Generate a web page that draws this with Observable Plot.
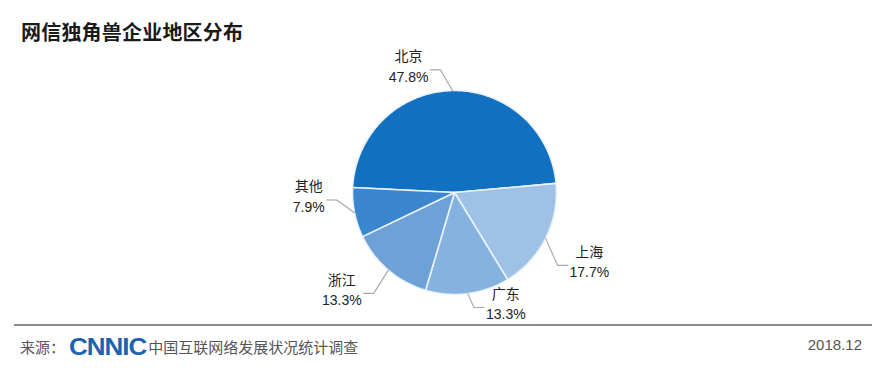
<!DOCTYPE html>
<html>
<head>
<meta charset="utf-8">
<script src="https://cdn.jsdelivr.net/npm/d3@7"></script>
<script src="https://cdn.jsdelivr.net/npm/@observablehq/plot@0.6"></script>
<style>
  html, body { margin: 0; padding: 0; background: #ffffff; }
  #wrap { position: relative; width: 885px; height: 368px; overflow: hidden; background: #fff;
          font-family: "Liberation Sans", "Noto Sans CJK SC", sans-serif; }
  #title { position: absolute; left: 21px; top: 17px; font-family: "Noto Sans CJK SC", sans-serif;
           font-weight: 700; font-size: 20px; color: #1a1a1a; letter-spacing: 0.2px; }
  #chart { position: absolute; left: 0; top: 45px; }
  #rule { position: absolute; left: 14px; top: 324px; width: 858px; height: 2px; background: #8a8a8a; }
  #source { position: absolute; left: 20px; top: 334px; height: 24px; display: flex; align-items: center;
            font-family: "Noto Sans CJK SC", sans-serif; font-size: 15px; color: #555; }
  #logo { font-family: "Liberation Sans", sans-serif; font-weight: 700; font-size: 26px; color: #1d63b0;
          letter-spacing: -1px; margin: 0 2px 0 4px; transform: scaleY(0.95); display: inline-block; }
  #date { position: absolute; right: 23px; top: 336px; font-family: "Liberation Sans", sans-serif;
          font-size: 15px; color: #555; }
</style>
</head>
<body>
<div id="wrap">
  <div id="title">网信独角兽企业地区分布</div>
  <div id="chart"></div>
  <div id="rule"></div>
  <div id="source">来源：<span id="logo">CNNIC</span>中国互联网络发展状况统计调查</div>
  <div id="date">2018.12</div>
</div>
<script>
// ---- data ----
const regions = ["北京", "上海", "广东", "浙江", "其他"];
const shares = [47.8, 17.7, 13.3, 13.3, 7.9];
const sliceColors = ["#1270c0", "#9ec1e5", "#86b2df", "#6da1d8", "#3a86cf"];

// ---- layout (pie geometry in pixels / units) ----
const W = 885, H = 275;
const R = 102;              // px per unit radius
const cx = 454, cy = 147;   // pie centre inside svg
const startDeg = -87.2;     // where the first slice begins (0 = top, clockwise)

// label placement around the pie: polar angle (deg) and radius (units) of each label block centre
const labelPlacement = {
  "北京": [-19.8, 1.33],
  "上海": [116.7, 1.48],
  "广东": [155, 1.19],
  "浙江": [229.6, 1.45],
  "其他": [269, 1.43]
};

const rows = regions.map((r, i) => ({name: r, value: shares[i]}));
const arcs = d3.pie().sort(null).value(d => d.value)
  .startAngle(startDeg * Math.PI / 180)
  .endAngle(startDeg * Math.PI / 180 + 2 * Math.PI)(rows);

const px = a => Math.sin(a), py = a => Math.cos(a); // y up positive

// slice polygons
const slicePts = [];
for (const a of arcs) {
  const n = Math.max(2, Math.ceil((a.endAngle - a.startAngle) / (Math.PI / 180)));
  slicePts.push({name: a.data.name, x: 0, y: 0});
  for (let k = 0; k <= n; k++) {
    const t = a.startAngle + (a.endAngle - a.startAngle) * k / n;
    slicePts.push({name: a.data.name, x: px(t), y: py(t)});
  }
}

// text measurement
const ctx = document.createElement("canvas").getContext("2d");
ctx.font = '14px "Liberation Sans", "Noto Sans CJK SC"';
const measure = s => ctx.measureText(s).width;

const labels = [];
const leaders = [];
for (const a of arcs) {
  const name = a.data.name;
  const pct = d3.format(".1f")(a.data.value) + "%";
  const mid = (a.startAngle + a.endAngle) / 2;
  const [ldeg, lr] = labelPlacement[name];
  const la = ldeg * Math.PI / 180;
  const lx = lr * px(la), ly = lr * py(la);
  labels.push({name, text: name + "\n" + pct, x: lx, y: ly});
  const ex = px(mid), ey = py(mid);
  const half = Math.max(measure(name), measure(pct)) / 2 / R;
  const side = lx > ex ? -1 : 1;
  const attachX = lx + side * (half + 2 / R);
  const attachY = ly - 5 / R;
  const elbowX = attachX + side * (10 / R);
  leaders.push({name, x: attachX, y: attachY}, {name, x: elbowX, y: attachY}, {name, x: ex * 1.0, y: ey * 1.0});
}

const chart = Plot.plot({
  width: W,
  height: H,
  margin: 0,
  x: {domain: [-cx / R, (W - cx) / R], range: [0, W], axis: null},
  y: {domain: [-(H - cy) / R, cy / R], range: [H, 0], axis: null},
  color: {domain: regions, range: sliceColors},
  style: {background: "transparent", overflow: "visible"},
  marks: [
    Plot.line(slicePts, {x: "x", y: "y", z: "name", fill: "name", stroke: "#eaf3fc", strokeWidth: 1.6,
      curve: "linear-closed", strokeLinejoin: "round"}),
    Plot.line(leaders, {x: "x", y: "y", z: "name", stroke: "#a6a6a6", strokeWidth: 1.1, curve: "linear"}),
    Plot.text(labels, {x: "x", y: "y", text: "text", fill: "#222", fontSize: 14, lineHeight: 1.45,
      fontFamily: '"Liberation Sans", "Noto Sans CJK SC", sans-serif', textAnchor: "middle"})
  ]
});
document.getElementById("chart").appendChild(chart);
</script>
</body>
</html>
